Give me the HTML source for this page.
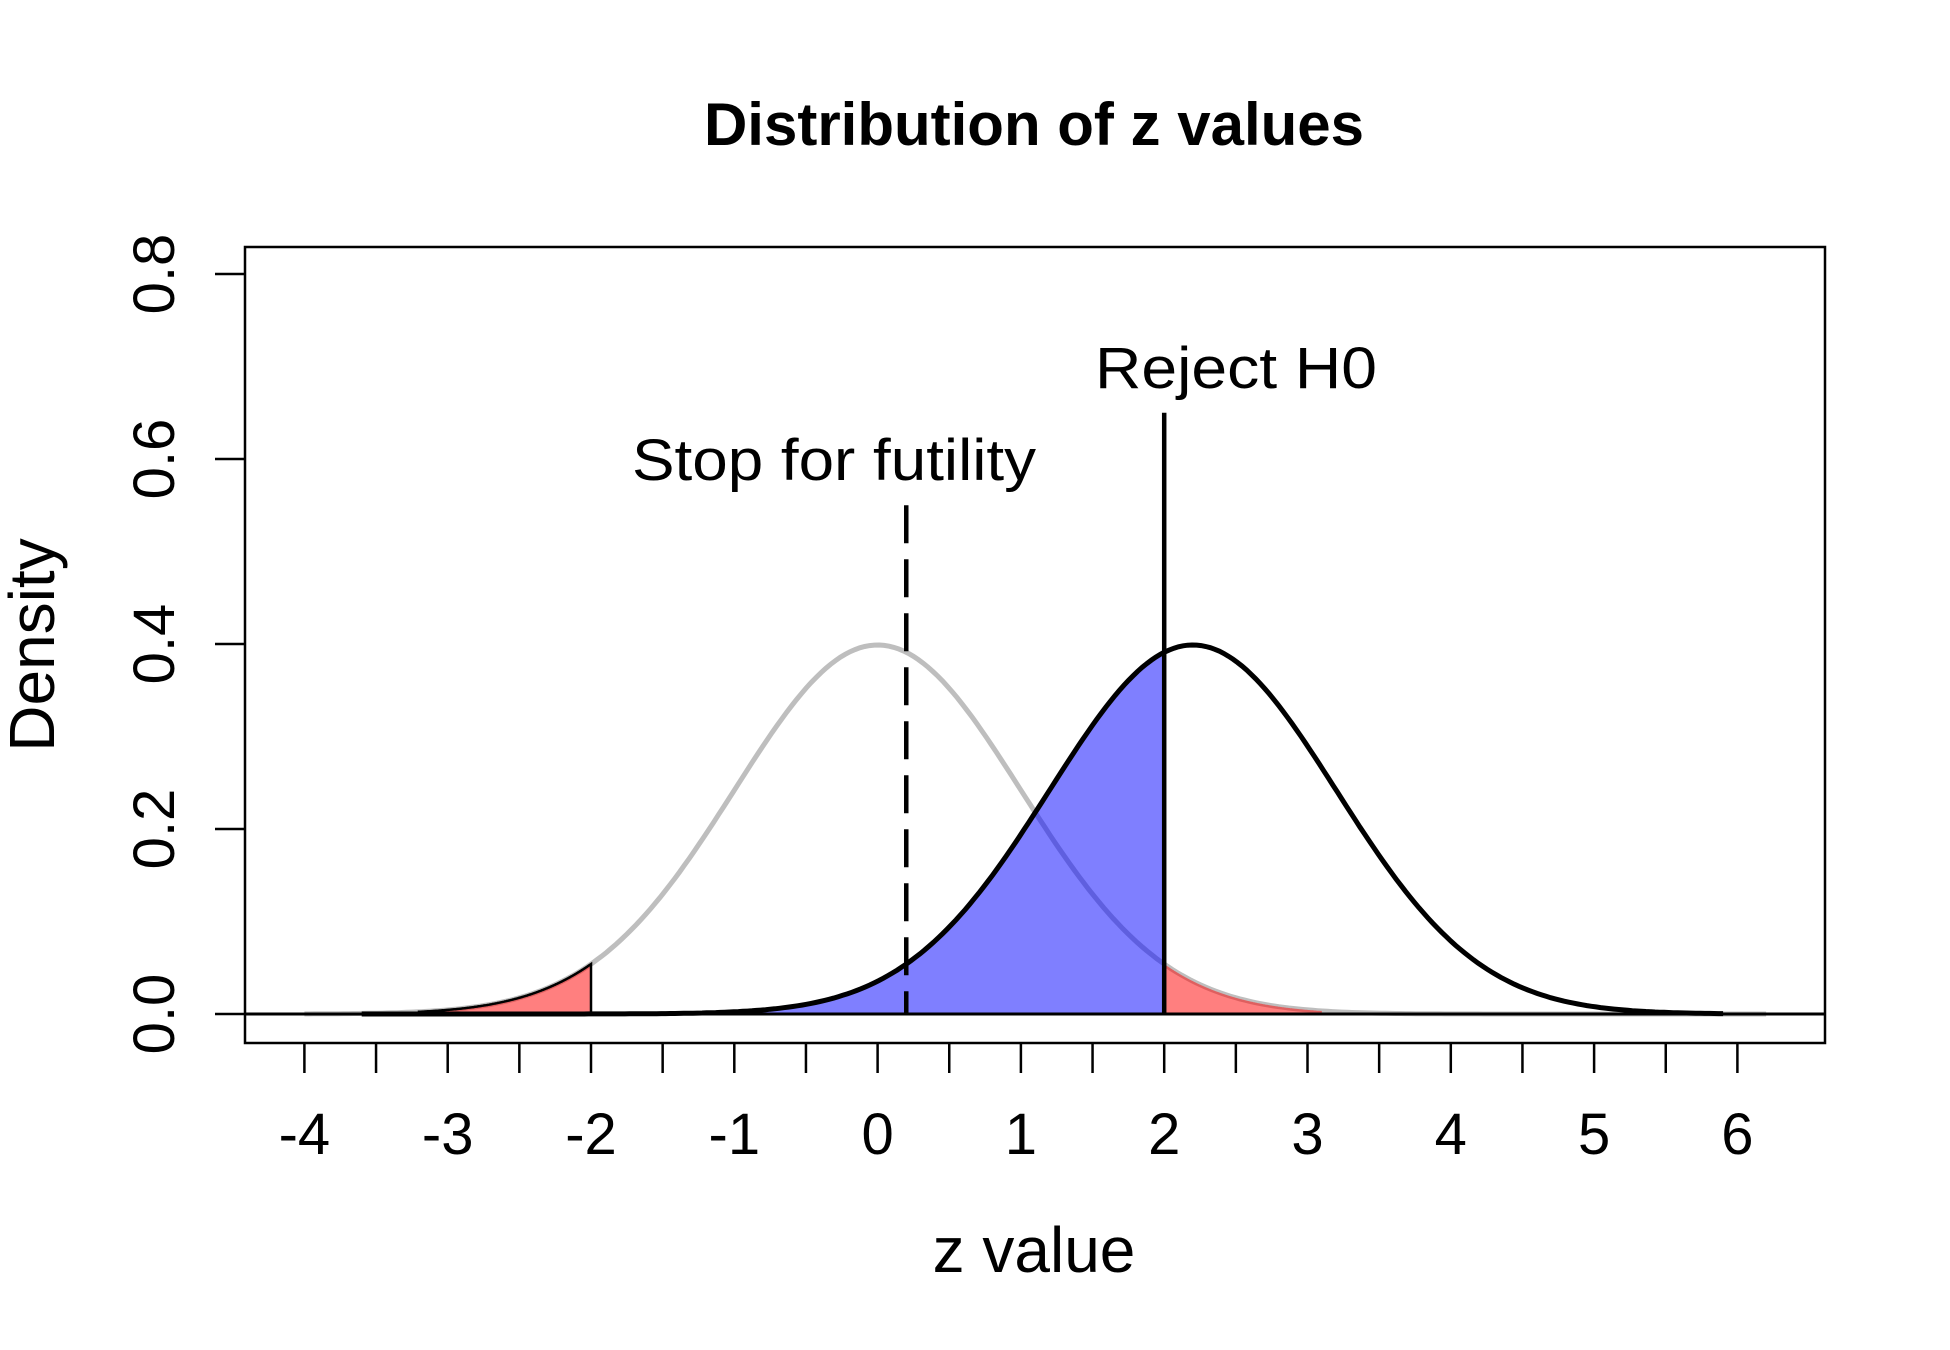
<!DOCTYPE html>
<html><head><meta charset="utf-8"><style>
html,body{margin:0;padding:0;background:#fff;}
svg{display:block;font-family:"Liberation Sans",Arial,sans-serif;}
</style></head><body>
<svg id="chart" width="1950" height="1350" viewBox="0 0 1950 1350">
<text x="1034" y="145" font-size="60" font-weight="bold" text-anchor="middle">Distribution of z values</text>
<g id="plot"></g>
</svg>
<script>
const xTicks=[-4,-3.5,-3,-2.5,-2,-1.5,-1,-0.5,0,0.5,1,1.5,2,2.5,3,3.5,4,4.5,5,5.5,6];
const xLabels=["-4","-3","-2","-1","0","1","2","3","4","5","6"];
const xLabelVals=[-4,-3,-2,-1,0,1,2,3,4,5,6];
const yTicks=[0,0.2,0.4,0.6,0.8];
const yLabels=["0.0","0.2","0.4","0.6","0.8"];
const nullMean=[0];
const altMean=[2.2];
const futility=[0.2];
const reject=[2];
const futilityTop=[0.55];
const rejectTop=[0.65];

const X=v=>591+(v+2)*143.3;
const Y=v=>1014-v*925;
const NS="http://www.w3.org/2000/svg";
const g=document.getElementById('plot');
function mk(tag,attrs,parent){const e=document.createElementNS(NS,tag);for(const k in attrs)e.setAttribute(k,attrs[k]);(parent||g).appendChild(e);return e;}
const dn=(x,m)=>Math.exp(-0.5*(x-m)*(x-m))/Math.sqrt(2*Math.PI);
function curvePts(m,a,b){const p=[];for(let i=0;i<=300;i++){const x=a+(b-a)*i/300;p.push(X(x).toFixed(1)+','+Y(dn(x,m)).toFixed(1));}return p;}
function areaPath(m,a,b){const p=curvePts(m,a,b);return 'M'+X(a)+','+Y(0)+' L'+p.join(' L')+' L'+X(b)+','+Y(0)+' Z';}

let e=mk('rect',{x:245,y:247,width:1580,height:796,fill:'none',stroke:'#000','stroke-width':2.5});


e=mk('polyline',{points:curvePts(nullMean[0],-4,6.2).join(' '),fill:'none',stroke:'#bebebe','stroke-width':5});

e=mk('path',{d:areaPath(nullMean[0],-3.2,-reject[0]),fill:'rgba(255,0,0,0.5)',stroke:'#000','stroke-width':2.5});

e=mk('path',{d:areaPath(nullMean[0],reject[0],3.1),fill:'rgba(255,0,0,0.5)',stroke:'none'});

e=mk('path',{d:areaPath(altMean[0],-1,reject[0]),fill:'rgba(0,0,255,0.5)',stroke:'none'});

e=mk('polyline',{points:curvePts(altMean[0],-3.6,5.9).join(' '),fill:'none',stroke:'#000','stroke-width':5});

e=mk('line',{x1:245,x2:1825,y1:Y(0),y2:Y(0),stroke:'#000','stroke-width':3});

e=mk('line',{x1:X(futility[0]),x2:X(futility[0]),y1:Y(futilityTop[0]),y2:Y(0),stroke:'#000','stroke-width':4.5,'stroke-dasharray':'38,16'});

e=mk('line',{x1:X(reject[0]),x2:X(reject[0]),y1:Y(rejectTop[0]),y2:Y(0),stroke:'#000','stroke-width':4.5});

e=mk('text',{x:834,y:480,'font-size':58,'text-anchor':'middle',textLength:404,lengthAdjust:'spacingAndGlyphs'});e.textContent='Stop for futility';

e=mk('text',{x:1236,y:388,'font-size':58,'text-anchor':'middle',textLength:282,lengthAdjust:'spacingAndGlyphs'});e.textContent='Reject H0';


xTicks.forEach(v=>{const t=mk('line',{x1:X(v),x2:X(v),y1:1043,y2:1073,stroke:'#000','stroke-width':2.5});
});
xLabelVals.forEach((v,i)=>{const t=mk('text',{x:X(v),y:1154,'font-size':58,'text-anchor':'middle'});t.textContent=xLabels[i];
});
yTicks.forEach((v,i)=>{const t=mk('line',{x1:215,x2:245,y1:Y(v),y2:Y(v),stroke:'#000','stroke-width':2.5});

const l=mk('text',{x:0,y:0,'font-size':58,'text-anchor':'middle',transform:'translate(174,'+Y(v)+') rotate(-90)'});l.textContent=yLabels[i];
});
e=mk('text',{x:1034,y:1272,'font-size':64,'text-anchor':'middle'});e.textContent='z value';

e=mk('text',{x:0,y:0,'font-size':64,'text-anchor':'middle',transform:'translate(54,645) rotate(-90)'});e.textContent='Density';

</script>
</body></html>
